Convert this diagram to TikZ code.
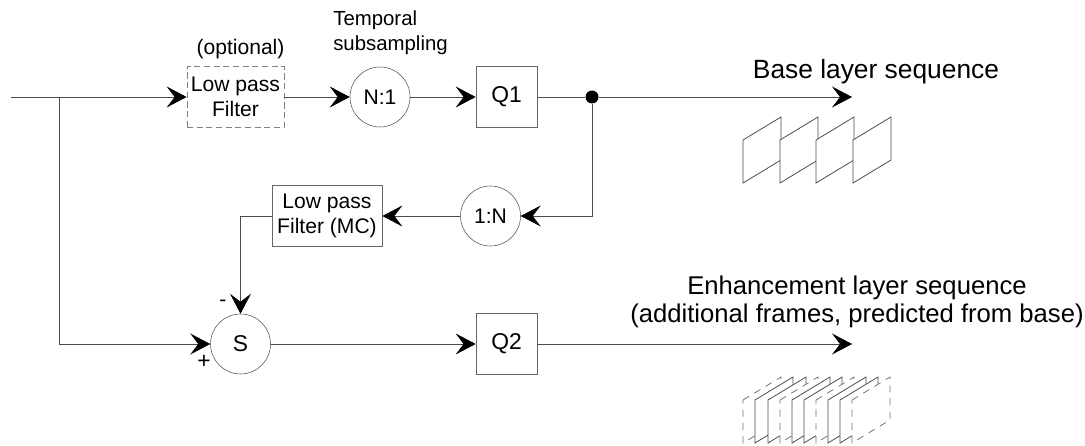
\documentclass[tikz,border=0pt]{standalone}
\usepackage{fontspec}
\setmainfont{Liberation Sans}
\usetikzlibrary{arrows.meta}
\tikzset{
  blockbox/.style={draw=black!60,fill=white,minimum width=61*0.02cm,minimum height=61*0.02cm,inner sep=0pt,align=center},
  optbox/.style={draw=black!50,dash pattern=on 3.5pt off 2pt,inner sep=0pt,align=center},
  circblock/.style={circle,draw=black!70,line width=0.3pt,minimum size=60*0.02cm,inner sep=0pt},
  flow/.style={draw=black!70,-{Stealth[length=20*0.02cm,width=21*0.02cm,inset=8*0.02cm,black]}},
  wire/.style={draw=black!70},
  frame/.style={draw=black!70,fill=white,line width=0.45pt},
  dashframe/.style={draw=black!55,fill=white,dash pattern=on 4pt off 3.5pt,line width=0.45pt},
  caption/.style={font=\fontsize{14.6}{16}\selectfont,align=center},
  bigtext/.style={font=\fontsize{13}{15}\selectfont}
}
\begin{document}
\begin{tikzpicture}[x=0.02cm,y=-0.02cm,font=\fontsize{12}{14}\selectfont]
  \useasboundingbox (0,0) rectangle (1085,446);

  % blocks
  \node[optbox,minimum width=97*0.02cm,minimum height=61*0.02cm] (lpf) at (235.5,97) {Low pass\\Filter};
  \node[circblock] (sub) at (380,97) {N:1};
  \node[blockbox,bigtext] (qone) at (506.5,97) {Q1};
  \node[circblock] (up) at (490.5,216) {1:N};
  \node[blockbox,minimum width=110*0.02cm] (mc) at (327,216) {Low pass\\Filter (MC)};
  \node[circblock,bigtext] (sum) at (240.5,344) {S};
  \node[blockbox,bigtext] (qtwo) at (506.5,344) {Q2};

  % free ends
  \coordinate (in) at (11,97);
  \coordinate (branch) at (59,97);
  \coordinate (baseout) at (852,97);
  \coordinate (enhout) at (852,344);
  \node[circle,fill=black,inner sep=0pt,minimum size=13*0.02cm] (tap) at (592,97) {};

  % connectors
  \draw[wire] (in) -- (branch);
  \draw[flow] (branch) -- (lpf);
  \draw[flow] (lpf) -- (sub);
  \draw[flow] (sub) -- (qone);
  \draw[wire] (qone) -- (tap);
  \draw[flow] (tap) -- (baseout);
  \draw[flow] (tap) |- (up);
  \draw[flow] (up) -- (mc);
  \draw[flow] (mc.west) -| (sum);
  \draw[flow] (branch) |- (sum);
  \draw[flow] (sum) -- (qtwo);
  \draw[flow] (qtwo) -- (enhout);

  % labels
  \node (optlabel) at (240.5,49) {(optional)};
  \node[align=left,font=\fontsize{11.6}{14}\selectfont] (sublabel) at (390.5,32.5) {Temporal\\subsampling};
  \node[font=\fontsize{15}{17}\selectfont] (baselabel) at (876,72) {Base layer sequence};
  \node[caption] (enhlabel) at (857,302) {Enhancement layer sequence\\(additional frames, predicted from base)};
  \node (minus) at (223,303) {-};
  \node[font=\fontsize{13}{15}\selectfont] (plus) at (204,362) {+};

  % base frames
  \foreach \x in {743,780,816,853}
    \draw[frame] (\x,140) -- (\x+38,117) -- (\x+38,160) -- (\x,183) -- cycle;

  % enhancement frames
  \foreach \x/\s in {743/dashframe,755/frame,768/frame,780/dashframe,792/frame,804/frame,816/dashframe,828/frame,840/frame,852/dashframe}
    \draw[\s] (\x,400) -- (\x+38,377) -- (\x+38,420) -- (\x,443) -- cycle;
\end{tikzpicture}
\end{document}
